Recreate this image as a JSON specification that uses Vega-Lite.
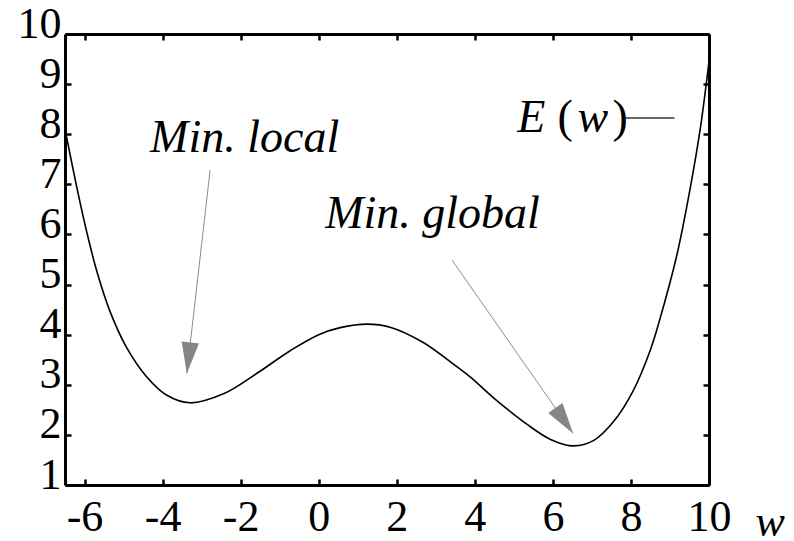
{
  "$schema": "https://vega.github.io/schema/vega-lite/v6.json",
  "width": 644,
  "height": 451,
  "autosize": "none",
  "padding": {"left": 65, "top": 34, "right": 85, "bottom": 56},
  "background": "white",
  "config": {
    "view": {"stroke": null},
    "font": "Liberation Serif",
    "axis": {
      "domainColor": "black",
      "domainWidth": 3,
      "tickColor": "black",
      "tickWidth": 2.5,
      "tickSize": -6,
      "grid": false,
      "labelFont": "Liberation Serif",
      "labelFontSize": 44,
      "labelColor": "black",
      "labelFlush": false,
      "labelOverlap": false,
      "title": null
    }
  },
  "datasets": {
    "curve": [
      {"w": -6.5, "E": 8.1},
      {"w": -6.2, "E": 6.95},
      {"w": -5.94, "E": 6.04},
      {"w": -5.69, "E": 5.28},
      {"w": -5.35, "E": 4.47},
      {"w": -4.92, "E": 3.74},
      {"w": -4.41, "E": 3.16},
      {"w": -3.89, "E": 2.79},
      {"w": -3.3, "E": 2.64},
      {"w": -2.44, "E": 2.82},
      {"w": -1.58, "E": 3.23},
      {"w": -0.73, "E": 3.68},
      {"w": 0, "E": 4.0},
      {"w": 0.55, "E": 4.14},
      {"w": 1.24, "E": 4.21},
      {"w": 1.83, "E": 4.15},
      {"w": 2.69, "E": 3.84},
      {"w": 3.37, "E": 3.46},
      {"w": 3.88, "E": 3.16},
      {"w": 4.48, "E": 2.74},
      {"w": 5.34, "E": 2.21},
      {"w": 5.94, "E": 1.91},
      {"w": 6.53, "E": 1.78},
      {"w": 7.05, "E": 1.89},
      {"w": 7.56, "E": 2.27},
      {"w": 8.07, "E": 2.9},
      {"w": 8.5, "E": 3.7},
      {"w": 8.72, "E": 4.25},
      {"w": 9.18, "E": 5.6},
      {"w": 9.53, "E": 6.97},
      {"w": 9.78, "E": 8.13},
      {"w": 10, "E": 9.45}
    ],
    "arrows": [
      {"name": "local", "w": -2.782, "E": 7.285, "w2": -3.379, "E2": 3.227},
      {"name": "global", "w": 3.415, "E": 5.489, "w2": 6.518, "E2": 2.03}
    ],
    "italicText": [
      {"label": "Min. local", "w": -4.32, "E": 7.64},
      {"label": "Min. global", "w": 0.167, "E": 6.13},
      {"label": "E", "w": 5.09, "E": 8.05},
      {"label": "w", "w": 6.63, "E": 8.05}
    ],
    "uprightText": [
      {"label": "(", "w": 6.12, "E": 8.05},
      {"label": ")", "w": 7.53, "E": 8.05}
    ],
    "legendLine": [
      {"w": 7.86, "w2": 9.115, "E": 8.323}
    ]
  },
  "resolve": {"axis": {"x": "independent", "y": "independent"}},
  "layer": [
    {
      "mark": {"type": "rule", "color": "#e3e3e3", "strokeWidth": 2.5},
      "encoding": {
        "x": {"datum": 0, "type": "quantitative", "axis": null}
      }
    },
    {
      "data": {"name": "curve"},
      "mark": {"type": "line", "color": "black", "strokeWidth": 1.6, "interpolate": "catmull-rom"},
      "encoding": {
        "x": {
          "field": "w", "type": "quantitative",
          "scale": {"domain": [-6.5, 10], "nice": false, "zero": false},
          "axis": {
            "orient": "bottom",
            "values": [-6, -4, -2, 0, 2, 4, 6, 8, 10],
            "labelExpr": "datum.value < 0 ? '-' + abs(datum.value) : '' + datum.value",
            "labelPadding": 16,
            "title": "w",
            "titleFont": "Liberation Serif",
            "titleFontStyle": "italic",
            "titleFontWeight": "normal",
            "titleFontSize": 44,
            "titleColor": "black",
            "titleAlign": "left",
            "titleBaseline": "alphabetic",
            "titleAnchor": "start",
            "titleX": 690,
            "titleY": 50,
            "titleAngle": 0
          }
        },
        "y": {
          "field": "E", "type": "quantitative",
          "scale": {"domain": [1, 10], "nice": false, "zero": false},
          "axis": {
            "orient": "left",
            "values": [1, 2, 3, 4, 5, 6, 7, 8, 9, 10],
            "labelPadding": 10,
            "labelOffset": -10
          }
        }
      }
    },
    {
      "data": {"name": "legendLine"},
      "mark": {"type": "rule", "color": "#333333", "strokeWidth": 1.5},
      "encoding": {
        "x": {
          "field": "w", "type": "quantitative",
          "axis": {"orient": "top", "values": [-6, -4, -2, 0, 2, 4, 6, 8, 10], "labels": false}
        },
        "x2": {"field": "w2"},
        "y": {
          "field": "E", "type": "quantitative",
          "axis": {"orient": "right", "values": [1, 2, 3, 4, 5, 6, 7, 8, 9, 10], "labels": false}
        }
      }
    },
    {
      "data": {"name": "arrows"},
      "mark": {"type": "rule", "color": "#8c8c8c", "strokeWidth": 1},
      "encoding": {
        "x": {"field": "w", "type": "quantitative", "axis": null},
        "y": {"field": "E", "type": "quantitative", "axis": null},
        "x2": {"field": "w2"},
        "y2": {"field": "E2"}
      }
    },
    {
      "data": {"name": "arrows"},
      "transform": [{"filter": "datum.name == 'local'"}],
      "mark": {"type": "point", "shape": "M0,0L-0.28,-1L0.28,-1Z", "size": 3844, "filled": true, "fill": "#858585", "stroke": null, "opacity": 1, "angle": 6.5},
      "encoding": {
        "x": {"field": "w2", "type": "quantitative", "axis": null},
        "y": {"field": "E2", "type": "quantitative", "axis": null}
      }
    },
    {
      "data": {"name": "arrows"},
      "transform": [{"filter": "datum.name == 'global'"}],
      "mark": {"type": "point", "shape": "M0,0L-0.28,-1L0.28,-1Z", "size": 3844, "filled": true, "fill": "#858585", "stroke": null, "opacity": 1, "angle": -34.9},
      "encoding": {
        "x": {"field": "w2", "type": "quantitative", "axis": null},
        "y": {"field": "E2", "type": "quantitative", "axis": null}
      }
    },
    {
      "data": {"name": "italicText"},
      "mark": {"type": "text", "font": "Liberation Serif", "fontStyle": "italic", "fontSize": 46, "align": "left", "baseline": "alphabetic", "color": "black"},
      "encoding": {
        "x": {"field": "w", "type": "quantitative", "axis": null},
        "y": {"field": "E", "type": "quantitative", "axis": null},
        "text": {"field": "label"}
      }
    },
    {
      "data": {"name": "uprightText"},
      "mark": {"type": "text", "font": "Liberation Serif", "fontSize": 46, "align": "left", "baseline": "alphabetic", "color": "black"},
      "encoding": {
        "x": {"field": "w", "type": "quantitative", "axis": null},
        "y": {"field": "E", "type": "quantitative", "axis": null},
        "text": {"field": "label"}
      }
    }
  ]
}
